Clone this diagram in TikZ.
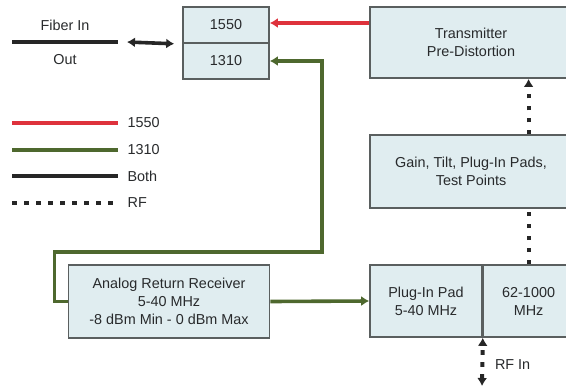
\documentclass[tikz,border=0pt]{standalone}
\usepackage{fontspec}
\setmainfont{Liberation Sans}
\usetikzlibrary{arrows.meta}

\definecolor{boxfill}{RGB}{224,237,240}
\definecolor{boxline}{RGB}{90,95,95}
\definecolor{textgray}{RGB}{40,42,44}
\definecolor{redsig}{RGB}{222,50,60}
\definecolor{greensig}{RGB}{78,104,46}

\tikzset{
  blk/.style={draw=boxline,line width=1.2pt,fill=boxfill,align=center,
    text=textgray,font=\fontsize{10.8}{13.5}\selectfont,inner sep=0pt},
  lbl/.style={text=textgray,font=\fontsize{10.8}{13}\selectfont,inner sep=2pt},
  sigred/.style={draw=redsig,line width=2.7pt},
  siggreen/.style={draw=greensig,line width=2.7pt},
  sigboth/.style={draw=black!85,line width=2.7pt},
  sigrf/.style={draw=black!85,line width=3pt,dash pattern=on 3.5pt off 5.5pt},
  tip/.style={-{Latex[length=6pt,width=7.5pt]}},
  dtip/.style={{Latex[length=6pt,width=7.5pt]}-{Latex[length=6pt,width=7.5pt]}}
}

\begin{document}
\begin{tikzpicture}[x=0.75pt,y=-0.75pt]
\useasboundingbox (0,0) rectangle (566,389);

% wavelength boxes
\node[blk,minimum width=64.5pt,minimum height=27pt] (w1550) at (226,25) {1550};
\node[blk,minimum width=64.5pt,minimum height=27pt] (w1310) at (226,61) {1310};

% right column
\node[blk,minimum width=151.5pt,minimum height=53.5pt] (tx) at (471,42.5) {Transmitter\\Pre-Distortion};
\node[blk,minimum width=151.5pt,minimum height=54.5pt] (gain) at (471,171.5) {Gain, Tilt, Plug-In Pads,\\Test Points};
\node[blk,minimum width=84pt,minimum height=54pt] (pad) at (426,301) {Plug-In Pad\\5-40 MHz};
\node[blk,minimum width=67.5pt,minimum height=54pt,anchor=west] (band) at (pad.east) {62-1000\\MHz};

% return receiver
\node[blk,minimum width=151pt,minimum height=54.5pt] (arr) at (169,301.5) {Analog Return Receiver\\5-40 MHz\\-8 dBm Min - 0 dBm Max};

% fiber
\coordinate (fibL) at (12,42);
\coordinate (fibR) at (118,42);
\coordinate (dblL) at (127,42);
\draw[sigboth] (fibL) -- node[lbl,above=5pt] (fin) {Fiber In} node[lbl,below=6pt] (fout) {Out} (fibR);
\draw[sigboth,dtip] (dblL) -- ([xshift=-6pt]w1550.south west);

% signal paths
\coordinate (loop) at (322,252);
\draw[sigred,tip] (tx.west |- 0,23) -- (w1550.east |- 0,23);
\draw[siggreen,tip] (arr.west) -- ++(-13,0) |- (loop) |- (w1310.east);
\draw[siggreen,tip] (arr.east) -- (pad.west);

% RF
\draw[sigrf,tip] (gain.north -| band) -- (tx.south -| band);
\draw[sigrf] (pad.north -| band) -- (gain.south -| band);
\coordinate (rfEnd) at (482,386);
\draw[sigrf,dtip] (rfEnd) -- node[lbl,right=6pt,pos=0.45] (rfin) {RF In} (pad.south east);

% legend
\foreach \y/\s/\t [count=\i] in {123/sigred/1550,150/siggreen/1310,176/sigboth/Both,203/sigrf/RF}{
  \coordinate (lgs\i) at (12,\y);
  \node[lbl,anchor=west,inner xsep=7pt] (lg\i) at (118,\y) {\t};
  \draw[\s] (lgs\i) -- (lg\i.west);
}
\end{tikzpicture}
\end{document}
